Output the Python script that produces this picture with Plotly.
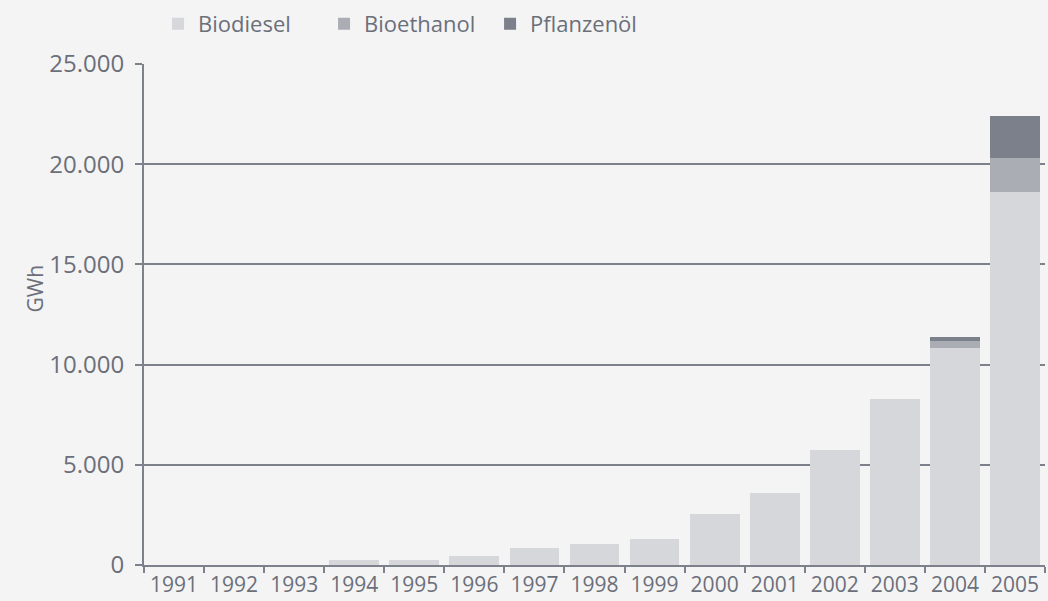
import plotly.graph_objects as go

years = ["1991", "1992", "1993", "1994", "1995", "1996", "1997", "1998",
         "1999", "2000", "2001", "2002", "2003", "2004", "2005"]
biodiesel = [0, 0, 0, 230, 230, 430, 830, 1030, 1320, 2560, 3600, 5740, 8270, 10840, 18630]
bioethanol = [0, 0, 0, 0, 0, 0, 0, 0, 0, 0, 0, 0, 0, 350, 1670]
pflanzenoel = [0, 0, 0, 0, 0, 0, 0, 0, 0, 0, 0, 0, 0, 200, 2090]

series = [
    ("Biodiesel", biodiesel, "#d6d7db"),
    ("Bioethanol", bioethanol, "#aaadb3"),
    ("Pflanzenöl", pflanzenoel, "#7c808a"),
]

TXT = "#6b6f7a"
LINE = "#7d818b"

fig = go.Figure()
for name, vals, col in series:
    fig.add_trace(go.Bar(x=years, y=vals, name=name, marker=dict(color=col, line=dict(width=0))))

fig.update_layout(
    barmode="stack",
    bargap=0.17,
    width=1048, height=601,
    margin=dict(l=144, r=3, t=64, b=32),
    paper_bgcolor="#f4f4f4",
    plot_bgcolor="#f4f4f4",
    separators=",.",
    font=dict(family="Open Sans", color=TXT),
    showlegend=True,
    legend=dict(orientation="h", x=0.0156, xanchor="left", y=1.038, yanchor="bottom",
                yref="paper", font=dict(size=22, color=TXT), traceorder="normal",
                entrywidth=121, entrywidthmode="pixels",
                bgcolor="rgba(0,0,0,0)"),
    xaxis=dict(type="category", showgrid=False, showline=True, linecolor=LINE, linewidth=2,
               ticks="outside", tickson="boundaries", ticklen=6, tickcolor=LINE, tickwidth=2,
               tickfont=dict(size=21, color=TXT), range=[-0.5, 14.5]),
    yaxis=dict(range=[0, 25000], tickvals=[0, 5000, 10000, 15000, 20000, 25000], tickformat=",d",
               showgrid=True, gridcolor=LINE, gridwidth=2, showline=True, linecolor=LINE, linewidth=2,
               ticks="outside", ticklen=7, tickcolor=LINE, tickwidth=2, zeroline=False,
               tickfont=dict(size=24, color=TXT), ticklabelstandoff=6),
    annotations=[dict(text="GWh", textangle=-90, xref="paper", yref="paper", x=-0.121, y=0.552,
                      showarrow=False, font=dict(size=21, color=TXT), xanchor="center", yanchor="middle")],
)

fig.write_html("out.html", config={"displayModeBar": False},
               post_script="document.body.style.margin='0';document.body.style.overflow='hidden';")
